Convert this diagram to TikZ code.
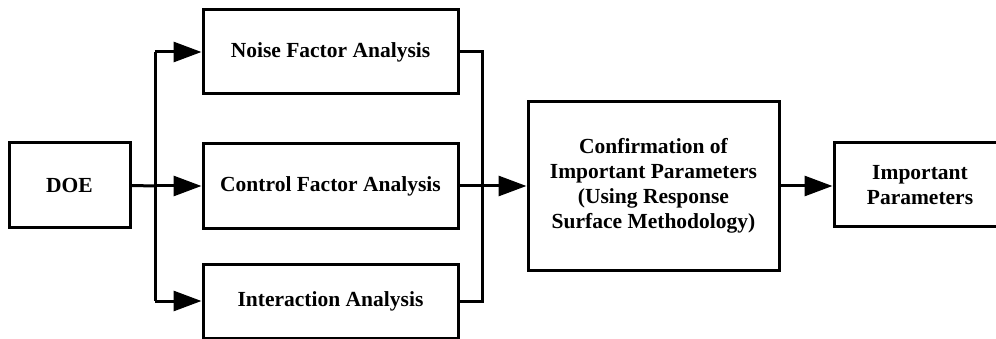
\documentclass[tikz,border=0pt]{standalone}
\usepackage{fontspec}
\setmainfont{Liberation Serif}
\usetikzlibrary{arrows.meta}
\begin{document}
\begin{tikzpicture}[x=1pt,y=-1pt,
  blk/.style={draw,line width=3pt,inner sep=0pt,align=center,
    font=\fontsize{21.5}{25}\selectfont\bfseries},
  con/.style={line width=3pt,line join=miter},
  arr/.style={con,-{Triangle[length=28pt,width=20pt]}}]
\useasboundingbox (0,0) rectangle (996,339);
\clip (0,0) rectangle (996,339);
\node[blk,minimum width=121pt,minimum height=85pt] (doe) at (69.5,185.5) {DOE};
\node[blk,minimum width=255pt,minimum height=84pt] (noise) at (330.5,52) {Noise Factor Analysis};
\node[blk,minimum width=255pt,minimum height=85pt] (control) at (330.5,186) {Control Factor Analysis};
\node[blk,minimum width=255pt,minimum height=74pt] (inter) at (330.5,301) {Interaction Analysis};
\node[blk,minimum width=251pt,minimum height=168pt] (conf) at (653.5,186) {Confirmation of\\Important Parameters\\(Using Response\\Surface Methodology)};
\node[blk,minimum width=172pt,minimum height=84pt] (imp) at (920,185) {Important\\Parameters};
\coordinate (br) at (155,186);
\coordinate (jn) at (482,186);
\draw[con] (doe.east) -- (br);
\draw[con] (br |- noise.west) -- (br |- inter.west);
\draw[arr] (br |- noise.west) -- (noise.west);
\draw[arr] (br) -- (control.west);
\draw[arr] (br |- inter.west) -- (inter.west);
\draw[con] (noise.east) -| (jn);
\draw[con] (inter.east) -| (jn);
\draw[arr] (control.east) -- (conf.west);
\draw[arr] (conf.east) -- (conf.east -| imp.west);
\end{tikzpicture}
\end{document}
